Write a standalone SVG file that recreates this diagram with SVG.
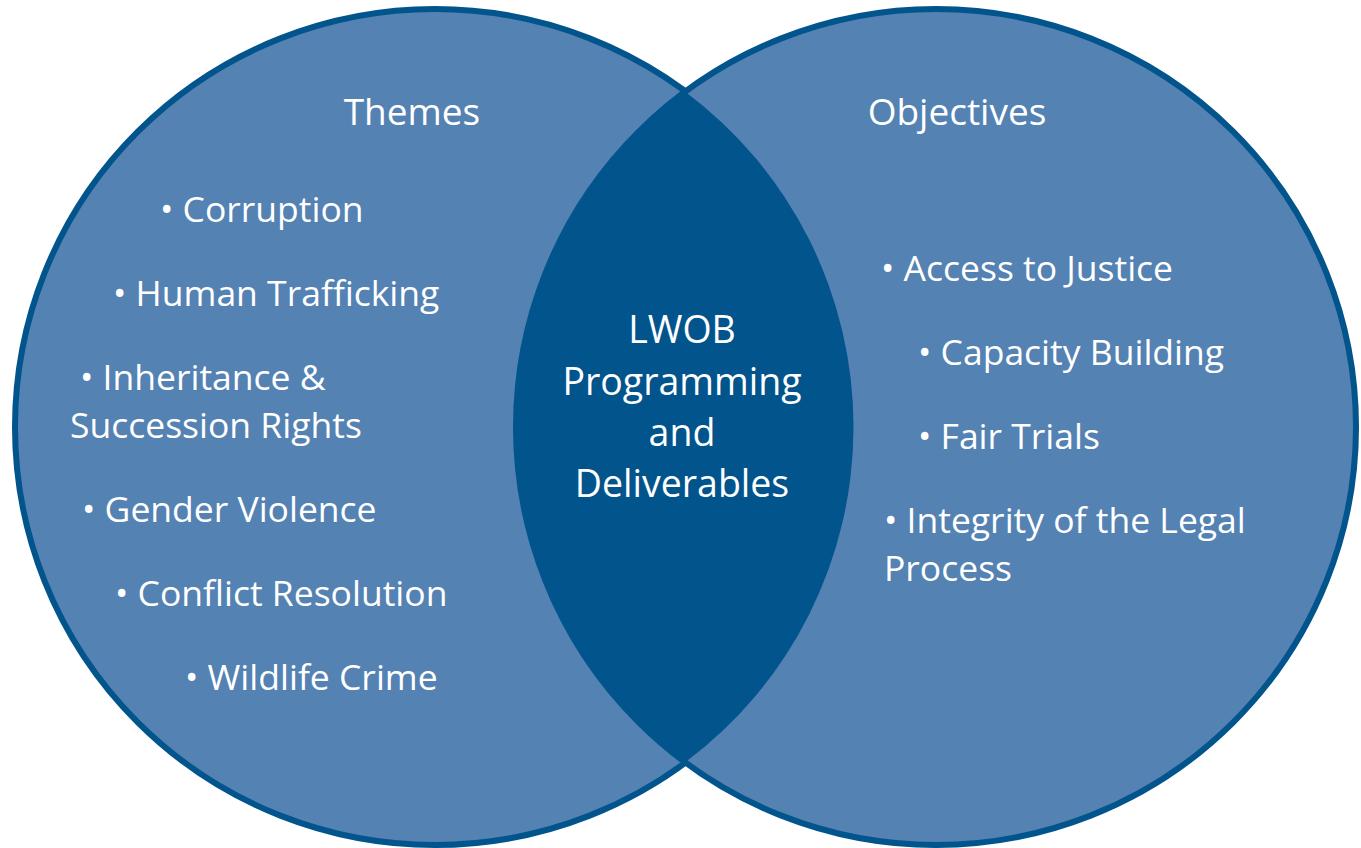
<svg xmlns="http://www.w3.org/2000/svg" width="1361" height="848" viewBox="0 0 1361 848">
<style>
.c{fill:#5482B3;stroke:#02548C;stroke-width:6}
.lens{fill:#02548C}
.t{font-family:"Open Sans","Liberation Sans",sans-serif;font-size:35.5px;fill:#ffffff}
.h{font-size:37px;text-anchor:middle}
.m{text-anchor:middle;font-size:37.5px}
</style>
<rect width="1361" height="848" fill="#ffffff"/>
<g id="themes">
<ellipse class="c" cx="435" cy="427" rx="420" ry="418"/>
</g>
<g id="objectives">
<ellipse class="c" cx="936" cy="427" rx="420" ry="418"/>
</g>
<g id="lwob">
<path class="lens" d="M685.5 92 A418 418 0 0 1 685.5 762 A418 418 0 0 1 685.5 92 Z"/>
</g>
<g id="connectors"></g>
<g id="labels">
<text class="t h" x="412" y="125">Themes</text>
<text class="t h" x="957" y="125">Objectives</text>
<text class="t" x="160" y="222">• Corruption</text>
<text class="t" x="113" y="306">• Human Trafficking</text>
<text class="t" x="80" y="390">• Inheritance &amp;</text>
<text class="t" x="70" y="438">Succession Rights</text>
<text class="t" x="82" y="522">• Gender Violence</text>
<text class="t" x="115" y="606">• Conflict Resolution</text>
<text class="t" x="185" y="690">• Wildlife Crime</text>
<text class="t" x="881" y="281">• Access to Justice</text>
<text class="t" x="918" y="365">• Capacity Building</text>
<text class="t" x="918" y="449">• Fair Trials</text>
<text class="t" x="884" y="533">• Integrity of the Legal</text>
<text class="t" x="884" y="581">Process</text>
<text class="t m" x="682" y="343">LWOB</text>
<text class="t m" x="682" y="395">Programming</text>
<text class="t m" x="682" y="446">and</text>
<text class="t m" x="682" y="497">Deliverables</text>
</g>
</svg>
